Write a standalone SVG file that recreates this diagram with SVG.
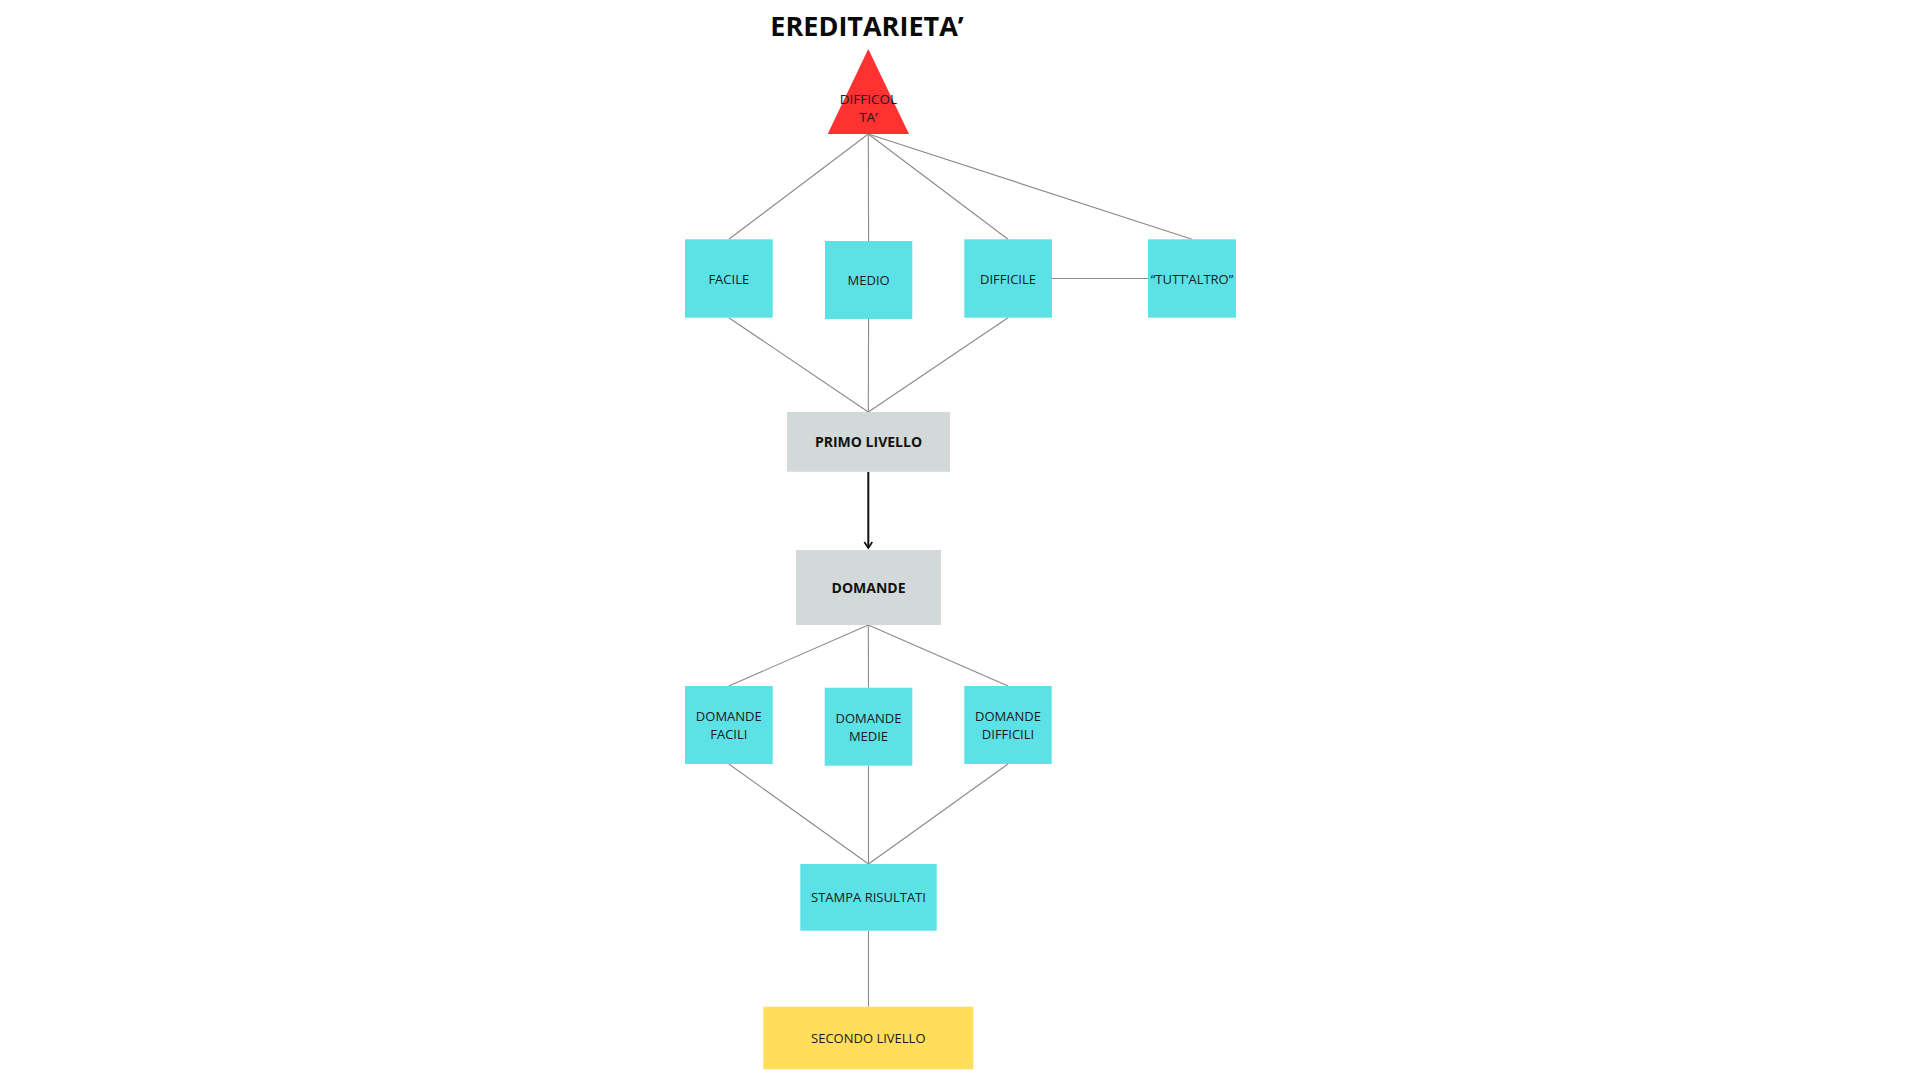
<svg xmlns="http://www.w3.org/2000/svg" width="1920" height="1080" viewBox="0 0 1920 1080">
<defs>
<style>
.t{font-family:"Open Sans","Noto Sans","Liberation Sans",sans-serif;font-size:13px;fill:#1a1a1a;text-anchor:middle}
.b{font-weight:bold;font-size:14px;fill:#111}
.cy{fill:#5CE1E6}
.gr{fill:#D3D8D8}
.ln{stroke:#8a8a8a;stroke-width:1.1;fill:none}
</style>
<marker id="chev" markerWidth="10" markerHeight="10" refX="7" refY="5" orient="auto" markerUnits="userSpaceOnUse" viewBox="0 0 10 10">
<path d="M1,1 L7,5 L1,9" fill="none" stroke="#111" stroke-width="1.8"/>
</marker>
</defs>
<rect width="1920" height="1080" fill="#ffffff"/>
<text x="867" y="35.5" style="font-family:'Open Sans','Noto Sans','Liberation Sans',sans-serif;font-weight:bold;font-size:27px;fill:#0a0a0a" text-anchor="middle">EREDITARIETA’</text>
<g id="connectors">
<line class="ln" x1="868.3" y1="134" x2="728.8" y2="239.3"/>
<line class="ln" x1="868.3" y1="134" x2="868.6" y2="241"/>
<line class="ln" x1="868.3" y1="134" x2="1008" y2="239.3"/>
<line class="ln" x1="868.3" y1="134" x2="1192" y2="239.3"/>
<line class="ln" x1="1148" y1="278.5" x2="1052" y2="278.5"/>
<line class="ln" x1="728.8" y1="317.7" x2="868.3" y2="412"/>
<line class="ln" x1="868.6" y1="319" x2="868.3" y2="412"/>
<line class="ln" x1="1008" y1="317.7" x2="868.3" y2="412"/>
<line x1="868.3" y1="472" x2="868.3" y2="548" stroke="#111" stroke-width="2" marker-end="url(#chev)"/>
<line class="ln" x1="868.3" y1="625" x2="728.8" y2="686"/>
<line class="ln" x1="868.3" y1="625" x2="868.5" y2="687.7"/>
<line class="ln" x1="868.3" y1="625" x2="1008" y2="686"/>
<line class="ln" x1="728.8" y1="764" x2="868.5" y2="864"/>
<line class="ln" x1="868.5" y1="765.7" x2="868.5" y2="864"/>
<line class="ln" x1="1008" y1="764" x2="868.5" y2="864"/>
<line class="ln" x1="868.5" y1="931" x2="868.5" y2="1006.7"/>
</g>
<g id="difficolta">
<polygon points="868.3,49 827.7,134 909,134" fill="#FF3131"/>
<text class="t" x="868.3" y="104" style="font-size:13.5px">DIFFICOL</text>
<text class="t" x="868.3" y="121.7" style="font-size:13.5px">TA’</text>
</g>
<g id="facile"><rect class="cy" x="685" y="239.3" width="87.7" height="78.4"/><text class="t" x="728.8" y="284">FACILE</text></g>
<g id="medio"><rect class="cy" x="825" y="241" width="87.3" height="78"/><text class="t" x="868.6" y="285">MEDIO</text></g>
<g id="difficile"><rect class="cy" x="964.3" y="239.3" width="87.7" height="78.4"/><text class="t" x="1008" y="284">DIFFICILE</text></g>
<g id="tuttaltro"><rect class="cy" x="1148" y="239.3" width="88" height="78.4"/><text class="t" x="1192" y="284">“TUTT’ALTRO”</text></g>
<g id="primo-livello"><rect class="gr" x="787" y="412" width="163" height="59.7"/><text class="t b" x="868.5" y="447">PRIMO LIVELLO</text></g>
<g id="domande"><rect class="gr" x="796" y="550" width="145" height="75"/><text class="t b" x="868.5" y="593">DOMANDE</text></g>
<g id="domande-facili"><rect class="cy" x="685" y="686" width="87.7" height="78"/><text class="t" x="728.8" y="721">DOMANDE</text><text class="t" x="728.8" y="739">FACILI</text></g>
<g id="domande-medie"><rect class="cy" x="824.7" y="687.7" width="87.6" height="78"/><text class="t" x="868.5" y="722.7">DOMANDE</text><text class="t" x="868.5" y="740.7">MEDIE</text></g>
<g id="domande-difficili"><rect class="cy" x="964.3" y="686" width="87.4" height="78"/><text class="t" x="1008" y="721">DOMANDE</text><text class="t" x="1008" y="739">DIFFICILI</text></g>
<g id="stampa-risultati"><rect class="cy" x="800.3" y="864" width="136.4" height="66.7"/><text class="t" x="868.5" y="902">STAMPA RISULTATI</text></g>
<g id="secondo-livello"><rect x="763.3" y="1006.7" width="210" height="62.6" fill="#FFDE59"/><text class="t" x="868.3" y="1043">SECONDO LIVELLO</text></g>
</svg>
